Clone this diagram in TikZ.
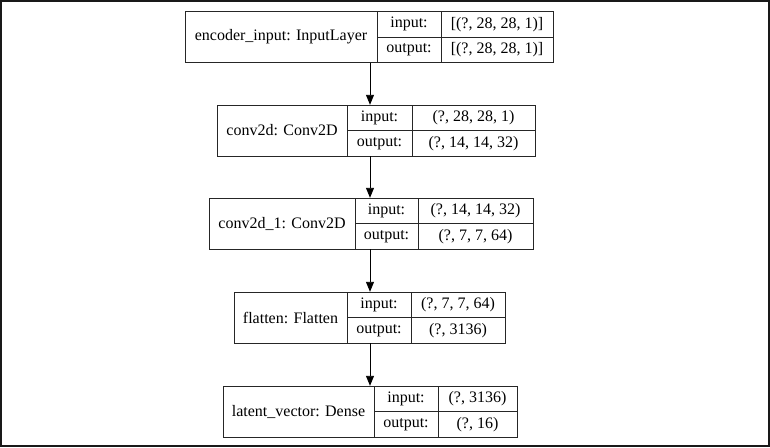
\documentclass[tikz,border=0pt]{standalone}
\usepackage{fontspec}
\setmainfont{Liberation Serif}
\usetikzlibrary{arrows.meta}
\tikzset{
  cell/.style={draw=black!85, line width=0.8pt, inner sep=0pt, font=\fontsize{16}{18}\selectfont, anchor=center},
  boxarea/.style={inner sep=0pt, anchor=center},
  flow/.style={draw=black, line width=0.9pt, -{Triangle[width=8pt,length=10pt]}},
  frame/.style={draw=black!90, line width=1.6pt}
}
\newcommand\layerbox[9]{%
  \pgfmathsetmacro\wa{#3-#2}%
  \pgfmathsetmacro\wb{#4-#3}%
  \pgfmathsetmacro\wc{#5-#4}%
  \pgfmathsetmacro\wall{#5-#2}%
  \node[boxarea, minimum width=\wall pt, minimum height=51pt] (#1) at ({(#2+#5)/2},{-#6}) {};
  \node[cell, minimum width=\wa pt, minimum height=51pt] (#1-name) at ({(#2+#3)/2},{-#6}) {#7};
  \node[cell, minimum width=\wb pt, minimum height=25.5pt] (#1-ik) at ({(#3+#4)/2},{-#6+12.75}) {input:};
  \node[cell, minimum width=\wc pt, minimum height=25.5pt] (#1-iv) at ({(#4+#5)/2},{-#6+12.75}) {#8};
  \node[cell, minimum width=\wb pt, minimum height=25.5pt] (#1-ok) at ({(#3+#4)/2},{-#6-12.75}) {output:};
  \node[cell, minimum width=\wc pt, minimum height=25.5pt] (#1-ov) at ({(#4+#5)/2},{-#6-12.75}) {#9};
}
\begin{document}
\begin{tikzpicture}[x=1pt,y=1pt]
  \useasboundingbox (0,0) rectangle (770,-447);
  \draw[frame] (1.2,-1.2) rectangle (768.8,-445.8);
  \coordinate (ax) at (370,0);
  \layerbox{b1}{185}{377}{441}{553}{37}{encoder\_input: InputLayer}{[(?, 28, 28, 1)]}{[(?, 28, 28, 1)]}
  \layerbox{b2}{217}{347}{412}{535}{130.5}{conv2d: Conv2D}{(?, 28, 28, 1)}{(?, 14, 14, 32)}
  \layerbox{b3}{209}{355}{418}{533}{223.5}{conv2d\_1: Conv2D}{(?, 14, 14, 32)}{(?, 7, 7, 64)}
  \layerbox{b4}{234}{347}{411}{505}{317.5}{flatten: Flatten}{(?, 7, 7, 64)}{(?, 3136)}
  \layerbox{b5}{223}{374}{438}{517}{411.5}{latent\_vector: Dense}{(?, 3136)}{(?, 16)}
  \draw[flow] (b1.south -| ax) -- (b2.north -| ax);
  \draw[flow] (b2.south -| ax) -- (b3.north -| ax);
  \draw[flow] (b3.south -| ax) -- (b4.north -| ax);
  \draw[flow] (b4.south -| ax) -- (b5.north -| ax);
\end{tikzpicture}
\end{document}
